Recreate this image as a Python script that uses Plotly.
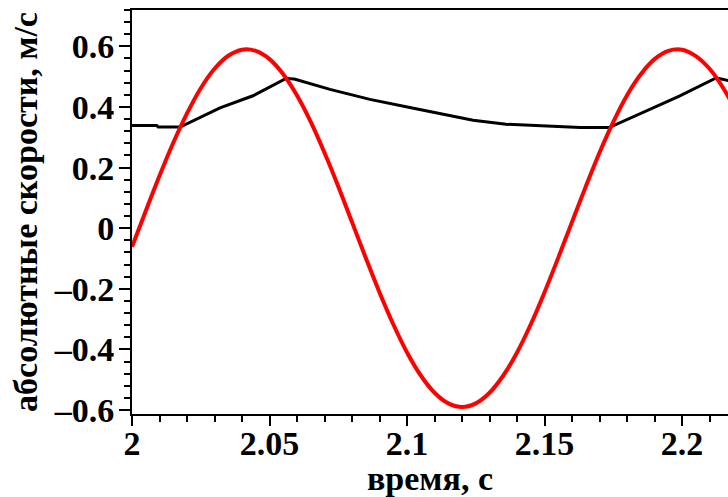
import plotly.graph_objects as go

# Time samples (s) and absolute velocity of the oscillating element (m/s)
t_red = [2.000, 2.005, 2.010, 2.015, 2.020, 2.025, 2.030, 2.035, 2.040, 2.045,
         2.050, 2.055, 2.060, 2.065, 2.070, 2.075, 2.080, 2.085, 2.090, 2.095,
         2.100, 2.105, 2.110, 2.115, 2.120, 2.125, 2.130, 2.135, 2.140, 2.145,
         2.150, 2.155, 2.160, 2.165, 2.170, 2.175, 2.180, 2.185, 2.190, 2.195,
         2.200, 2.205, 2.210, 2.215, 2.220, 2.225]
v_red = [-0.061, 0.057, 0.173, 0.282, 0.379, 0.462, 0.526, 0.569, 0.589, 0.585,
         0.558, 0.508, 0.438, 0.351, 0.249, 0.138, 0.020, -0.098, -0.212, -0.317,
         -0.410, -0.486, -0.543, -0.578, -0.590, -0.578, -0.543, -0.486, -0.410, -0.317,
         -0.211, -0.097, 0.021, 0.138, 0.250, 0.351, 0.439, 0.508, 0.558, 0.585,
         0.589, 0.568, 0.526, 0.462, 0.379, 0.281]

# Time samples (s) and absolute velocity of the carrier (m/s)
t_black = [2.000, 2.009, 2.0095, 2.0175, 2.032, 2.044, 2.056, 2.059, 2.072,
           2.0865, 2.101, 2.1156, 2.124, 2.136, 2.152, 2.163, 2.1735, 2.187,
           2.199, 2.212, 2.2135, 2.2175]
v_black = [0.339, 0.339, 0.334, 0.334, 0.397, 0.437, 0.494, 0.492, 0.458,
           0.425, 0.398, 0.370, 0.356, 0.343, 0.337, 0.332, 0.332, 0.386,
           0.436, 0.494, 0.494, 0.486]

x_tickvals = [2.0, 2.05, 2.1, 2.15, 2.2]
x_ticktext = ["<b>2</b>", "<b>2.05</b>", "<b>2.1</b>", "<b>2.15</b>", "<b>2.2</b>"]
y_tickvals = [-0.6, -0.4, -0.2, 0.0, 0.2, 0.4, 0.6]
y_ticktext = ["<b>\u20130.6</b>", "<b>\u20130.4</b>", "<b>\u20130.2</b>", "<b>0</b>",
              "<b>0.2</b>", "<b>0.4</b>", "<b>0.6</b>"]

FONT = "Liberation Serif"

fig = go.Figure()
fig.add_trace(go.Scatter(x=t_black, y=v_black, mode="lines",
                         line=dict(color="black", width=3),
                         showlegend=False))
fig.add_trace(go.Scatter(x=t_red, y=v_red, mode="lines",
                         line=dict(color="#ff0000", width=4, shape="spline"),
                         showlegend=False))

fig.update_layout(
    width=728, height=497,
    margin=dict(l=132, r=0, t=10, b=83),
    paper_bgcolor="white", plot_bgcolor="white",
    font=dict(family=FONT, color="black"),
    xaxis=dict(
        range=[2.0, 2.2167],
        tickmode="array", tickvals=x_tickvals, ticktext=x_ticktext,
        ticks="outside", ticklen=10, tickwidth=2, tickcolor="black",
        ticklabelstandoff=-12,
        minor=dict(tickmode="linear", tick0=2.0, dtick=0.01,
                   ticks="outside", ticklen=6, tickwidth=2, tickcolor="black",
                   showgrid=False),
        showline=True, linewidth=2, linecolor="black", mirror=True,
        showgrid=False, zeroline=False,
        tickfont=dict(family=FONT, size=34, color="black"),
        title=dict(text="<b>время, с</b>", standoff=4,
                   font=dict(family=FONT, size=34, color="black")),
    ),
    yaxis=dict(
        range=[-0.613, 0.72],
        tickmode="array", tickvals=y_tickvals, ticktext=y_ticktext,
        ticks="outside", ticklen=11, tickwidth=2, tickcolor="black",
        ticklabelstandoff=-2,
        minor=dict(tickmode="linear", tick0=0.0, dtick=0.04,
                   ticks="outside", ticklen=6, tickwidth=2, tickcolor="black",
                   showgrid=False),
        showline=True, linewidth=2, linecolor="black", mirror=False,
        showgrid=False, zeroline=False,
        tickfont=dict(family=FONT, size=34, color="black"),
        title=dict(text="<b>абсолютные скорости, м/с</b>", standoff=6,
                   font=dict(family=FONT, size=34, color="black")),
    ),
)

fig.write_html("out.html")
